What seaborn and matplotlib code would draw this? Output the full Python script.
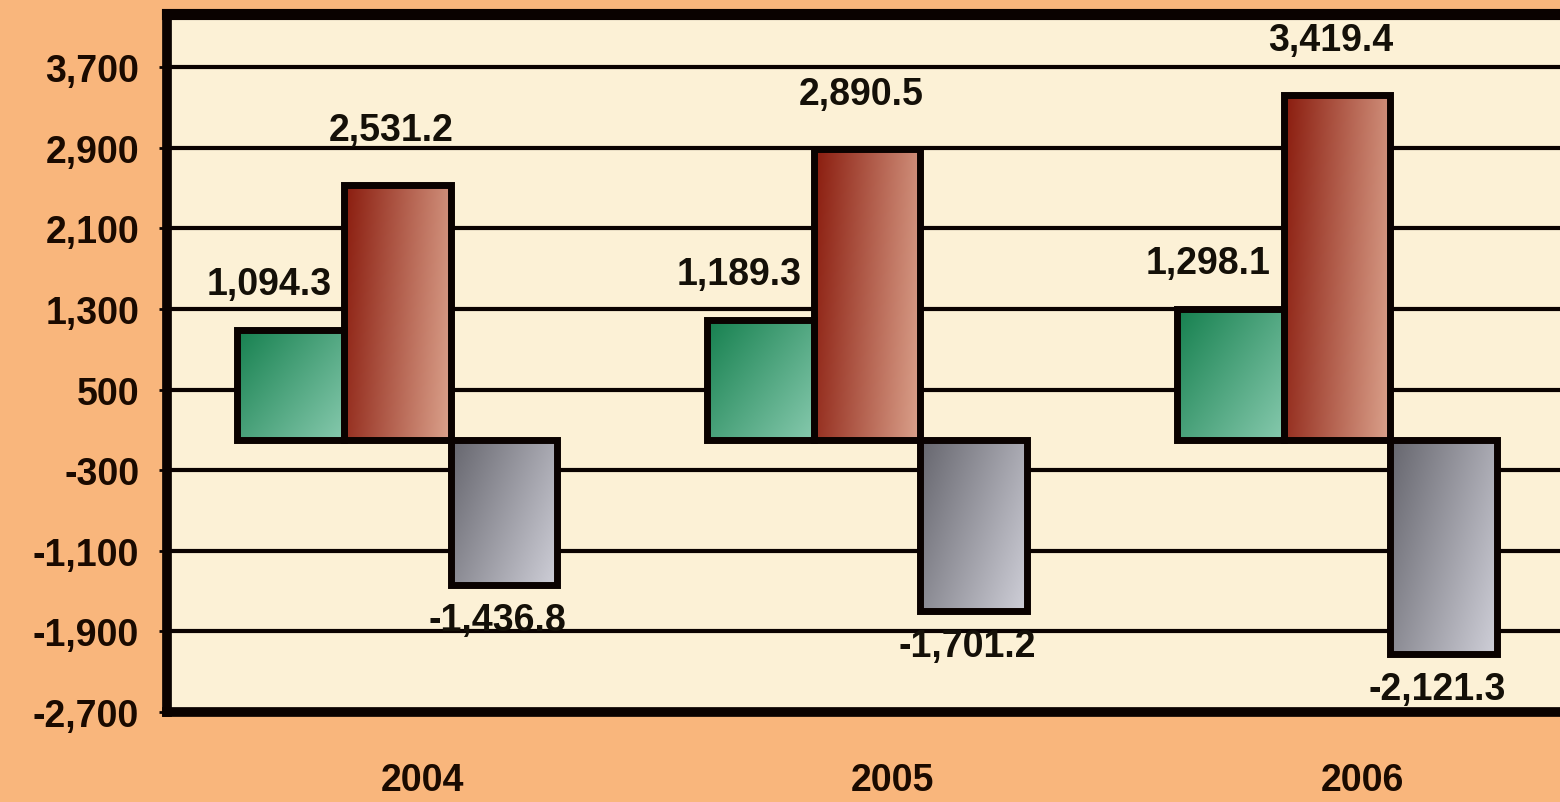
import matplotlib
matplotlib.use('Agg')
import matplotlib.pyplot as plt
import matplotlib.transforms as mtransforms
from matplotlib.colors import to_rgb
import seaborn as sns
import pandas as pd
import numpy as np

# Datos
years = ['2004', '2005', '2006']
series = ['Serie 1', 'Serie 2', 'Serie 3']
serie1 = [1094.3, 1189.3, 1298.1]
serie2 = [2531.2, 2890.5, 3419.4]
serie3 = [-1436.8, -1701.2, -2121.3]
yticks = [-2700, -1900, -1100, -300, 500, 1300, 2100, 2900, 3700]

df = pd.DataFrame({
    'year': years * 3,
    'serie': [s for s in series for _ in years],
    'value': serie1 + serie2 + serie3,
})

sns.set_style('white')
plt.rcParams['font.family'] = ['Liberation Sans', 'DejaVu Sans']
plt.rcParams['font.weight'] = 'bold'

fig = plt.figure(figsize=(15.6, 8.03), dpi=100)
fig.patch.set_facecolor('#f9b67c')
# el area del grafico se sale por la derecha como en la imagen
ax = fig.add_axes([167 / 1560, (803 - 713) / 803, 1452 / 1560, (713 - 15) / 803])
ax.set_facecolor('#fcf1d6')

sns.barplot(data=df, x='year', y='value', hue='serie', order=years, hue_order=series,
            width=0.68, palette=['#2e9a6c', '#a8402c', '#9a9aa2'], legend=False,
            edgecolor='#0a0200', linewidth=5, saturation=1, ax=ax, zorder=3)

# degradados de las barras
grads = [
    (('#16804f', '#86c9ad'), 0.45),
    (('#8a1c0e', '#dba28c'), 0.15),
    (('#66666e', '#cfcfd8'), 0.35),
]
for cont, ((c0, c1), vmix) in zip(ax.containers, grads):
    a = np.array(to_rgb(c0))
    b = np.array(to_rgb(c1))
    xx, yy = np.meshgrid(np.linspace(0, 1, 64), np.linspace(0, 1, 64))
    t = np.clip((1 - vmix) * xx + vmix * yy, 0, 1)[..., None]
    img = a * (1 - t) + b * t
    for bar in cont:
        x0, y0 = bar.get_x(), bar.get_y()
        w, h = bar.get_width(), bar.get_height()
        y_lo, y_hi = min(y0, y0 + h), max(y0, y0 + h)
        im = ax.imshow(img, extent=[x0, x0 + w, y_lo, y_hi], origin='upper',
                       aspect='auto', zorder=3.1, interpolation='bilinear')
        im.set_clip_path(bar)
        bar.set_facecolor('none')
        bar.set_zorder(3.2)

# etiquetas de valores
offsets = [(-22, 46), (-6, 55), (-6, -35)]
for cont, (dx, dy) in zip(ax.containers, offsets):
    for bar in cont:
        val = bar.get_height()
        ax.annotate(f'{val:,.1f}', xy=(bar.get_x() + bar.get_width() / 2, val),
                    xytext=(dx, dy), textcoords='offset pixels',
                    ha='center', va='center', fontsize=27, fontweight='bold',
                    color='#141008', zorder=5, annotation_clip=False)

ax.set_xlim(-0.49, 2.6)
ax.set_ylim(-2700, 4226)
ax.set_yticks(yticks)
ax.set_yticklabels([f'{v:,}' for v in yticks])
ax.yaxis.grid(True, color='#0a0200', linewidth=3)
ax.set_axisbelow(True)
ax.set_xlabel('')
ax.set_ylabel('')

ax.tick_params(axis='y', which='major', left=True, length=6, width=2, color='#0a0200',
               pad=14, labelsize=27, labelcolor='#1a0a00')
ax.tick_params(axis='x', length=0, pad=36, labelsize=27, labelcolor='#1a0a00')
for lab in ax.get_xticklabels() + ax.get_yticklabels():
    lab.set_fontweight('bold')
# etiquetas del eje x algo desplazadas a la derecha
shift = mtransforms.ScaledTranslation(25 / 100, 0, fig.dpi_scale_trans)
for lab in ax.get_xticklabels():
    lab.set_transform(lab.get_transform() + shift)

for side, lw in [('left', 7), ('top', 8), ('bottom', 7), ('right', 7)]:
    ax.spines[side].set_visible(True)
    ax.spines[side].set_color('#0a0200')
    ax.spines[side].set_linewidth(lw)

fig.savefig('out.png', dpi=100, facecolor=fig.get_facecolor())
